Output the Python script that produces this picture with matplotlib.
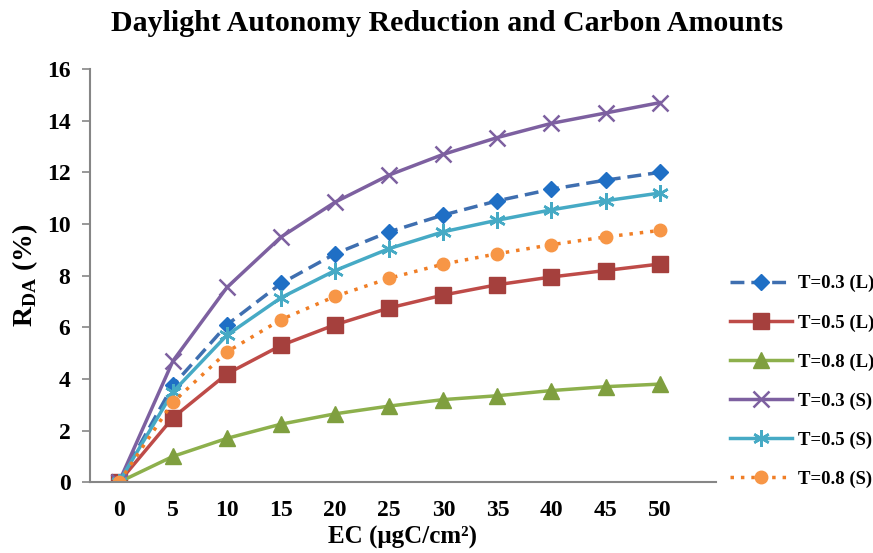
import numpy as np
import matplotlib
matplotlib.use('Agg')
import matplotlib.pyplot as plt

plt.rcParams['font.family'] = ['Liberation Serif', 'DejaVu Serif']
plt.rcParams['font.weight'] = 'bold'
plt.rcParams['mathtext.fontset'] = 'custom'
plt.rcParams['mathtext.rm'] = 'Liberation Serif:bold'
plt.rcParams['mathtext.bf'] = 'Liberation Serif:bold'

# carbon amount (EC, ugC/cm2)
ec = [0, 5, 10, 15, 20, 25, 30, 35, 40, 45, 50]

# daylight autonomy reduction (%)
t03_l = [0, 3.75, 6.1, 7.7, 8.85, 9.7, 10.35, 10.9, 11.35, 11.7, 12.0]
t05_l = [0, 2.5, 4.2, 5.3, 6.1, 6.75, 7.25, 7.65, 7.95, 8.2, 8.45]
t08_l = [0, 1.0, 1.7, 2.25, 2.65, 2.95, 3.2, 3.35, 3.55, 3.7, 3.8]
t03_s = [0, 4.7, 7.55, 9.5, 10.85, 11.9, 12.7, 13.35, 13.9, 14.3, 14.7]
t05_s = [0, 3.5, 5.7, 7.15, 8.2, 9.05, 9.7, 10.15, 10.55, 10.9, 11.2]
t08_s = [0, 3.1, 5.05, 6.3, 7.2, 7.9, 8.45, 8.85, 9.2, 9.5, 9.75]

labels = ['T=0.3 (L)', 'T=0.5 (L)', 'T=0.8 (L)', 'T=0.3 (S)', 'T=0.5 (S)', 'T=0.8 (S)']

fig = plt.figure(figsize=(8.73, 5.53), dpi=100)
ax = fig.add_axes([0.103, 0.128, 0.717, 0.747])

ax.plot(ec, t03_l, color='#3F6FB0', ls=(0, (4, 2)), lw=2.5, marker='D', ms=8,
        mfc='#1F6FC5', mec='#1F6FC5', label=labels[0])
ax.plot(ec, t05_l, color='#BE4B48', ls='-', lw=2.5, marker='s', ms=11,
        mfc='#A5403D', mec='#A5403D', label=labels[1])
ax.plot(ec, t08_l, color='#8DB04C', ls='-', lw=2.5, marker='^', ms=11,
        mfc='#7F9F3F', mec='#7F9F3F', label=labels[2])
ax.plot(ec, t03_s, color='#7D60A0', ls='-', lw=2.5, marker='x', ms=11,
        mew=1.8, mec='#7D60A0', label=labels[3])
ax.plot(ec, t05_s, color='#46AAC5', ls='-', lw=2.5, marker=(6, 2, 0), ms=12,
        mew=1.8, mec='#46AAC5', label=labels[4])
ax.plot(ec, t08_s, color='#F07E26', ls=(0, (1, 2)), lw=2.5, marker='o', ms=9,
        mfc='#F79646', mec='#F79646', label=labels[5])

ax.set_xlim(-2.68, 55.2)
ax.set_ylim(0, 16)
ax.set_xticks(ec)
ax.set_yticks(np.arange(0, 17, 2))
ax.tick_params(axis='x', length=0, pad=13, labelsize=17)
ax.tick_params(axis='y', length=6, width=1.2, color='#868686', pad=8, labelsize=17)

for s in ['top', 'right']:
    ax.spines[s].set_visible(False)
for s in ['left', 'bottom']:
    ax.spines[s].set_color('#868686')
    ax.spines[s].set_linewidth(1.5)

ax.set_xlabel('EC (\u03bcgC/cm\u00b2)', fontsize=18, fontweight='bold', labelpad=3)
ax.set_ylabel(r'R$_{\mathrm{DA}}$ (%)', fontsize=20, fontweight='bold', labelpad=5)
fig.text(0.512, 0.958, 'Daylight Autonomy Reduction and Carbon Amounts', fontsize=21.5,
         fontweight='bold', ha='center', va='center')

fig.legend(loc='upper left', bbox_to_anchor=(0.817, 0.533), frameon=False,
           handlelength=3.3, handletextpad=0.3, labelspacing=1.16,
           prop={'weight': 'bold', 'size': 13.5})

fig.savefig('out.png', dpi=100)
